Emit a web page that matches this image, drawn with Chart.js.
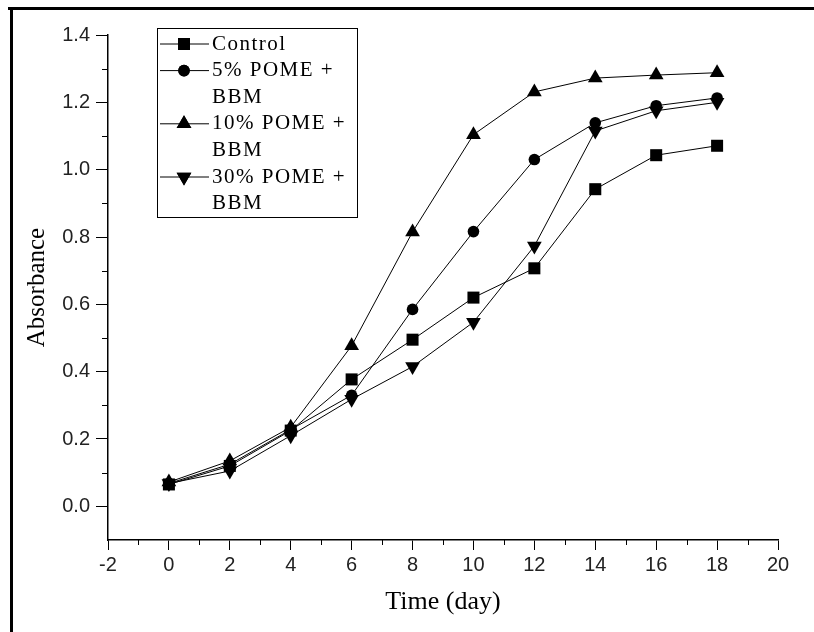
<!DOCTYPE html>
<html>
<head>
<meta charset="utf-8">
<script src="https://cdn.jsdelivr.net/npm/chart.js@4.4.1/dist/chart.umd.min.js"></script>
<style>
  html, body { margin: 0; padding: 0; background: #fff; }
</style>
</head>
<body>
<canvas id="grafico-absorbancia" width="814" height="632"></canvas>
<script>
// dias de cultivo
var dias = [0, 2, 4, 6, 8, 10, 12, 14, 16, 18];

// absorbancia de cada meio
var controle = [0.065, 0.12, 0.225, 0.377, 0.495, 0.62, 0.707, 0.942, 1.043, 1.071];
var pome5 = [0.068, 0.125, 0.228, 0.33, 0.585, 0.816, 1.03, 1.139, 1.19, 1.213];
var pome10 = [0.072, 0.135, 0.235, 0.477, 0.815, 1.104, 1.231, 1.272, 1.281, 1.288];
var pome30 = [0.068, 0.105, 0.21, 0.318, 0.415, 0.547, 0.773, 1.115, 1.175, 1.2];

var nomes = ["Control", "5% POME + BBM", "10% POME + BBM", "30% POME + BBM"];
var linhasLegenda = [["Control"], ["5% POME +", "BBM"], ["10% POME +", "BBM"], ["30% POME +", "BBM"]];

// marcas dos eixos
var ticksX = [-2, 0, 2, 4, 6, 8, 10, 12, 14, 16, 18, 20];
var menoresX = [-1, 1, 3, 5, 7, 9, 11, 13, 15, 17, 19];
var ticksY = [0, 0.2, 0.4, 0.6, 0.8, 1.0, 1.2, 1.4];
var menoresY = [0.1, 0.3, 0.5, 0.7, 0.9, 1.1, 1.3];

function pontos(valores) {
  return dias.map(function (d, i) {
    return { x: d, y: valores[i] };
  });
}

function serie(nome, valores, estilo, raio, rotacao) {
  return {
    label: nome,
    data: pontos(valores),
    borderColor: "#000",
    backgroundColor: "#000",
    borderWidth: 1,
    pointStyle: estilo,
    pointRadius: raio,
    pointRotation: rotacao,
    pointBorderWidth: 0,
    pointBackgroundColor: "#000",
    tension: 0,
  };
}

// moldura, marcas menores e legenda
var extras = {
  id: "extras",
  beforeDraw: function (chart) {
    var ctx = chart.ctx;
    ctx.save();
    ctx.fillStyle = "#fff";
    ctx.fillRect(0, 0, chart.width, chart.height);
    ctx.restore();
  },
  afterDraw: function (chart) {
    var ctx = chart.ctx;
    var sx = chart.scales.x;
    var sy = chart.scales.y;
    ctx.save();

    // marcas menores
    ctx.strokeStyle = "#000";
    ctx.lineWidth = 1;
    ctx.beginPath();
    menoresX.forEach(function (v) {
      var px = Math.round(sx.getPixelForValue(v)) + 0.5;
      ctx.moveTo(px, sx.top);
      ctx.lineTo(px, sx.top + 5);
    });
    menoresY.forEach(function (v) {
      var py = Math.round(sy.getPixelForValue(v)) + 0.5;
      ctx.moveTo(sy.right, py);
      ctx.lineTo(sy.right - 6, py);
    });
    ctx.stroke();

    // moldura
    ctx.fillStyle = "#000";
    ctx.fillRect(8, 7, chart.width - 8, 3);
    ctx.fillRect(10, 7, 3, chart.height - 7);

    // legenda
    var bx = 157, by = 28, bw = 200, bh = 189;
    ctx.lineWidth = 1;
    ctx.strokeRect(bx + 0.5, by + 0.5, bw, bh);
    ctx.font = "21px 'Liberation Serif'";
    ctx.textBaseline = "middle";
    ctx.textAlign = "left";
    ctx.letterSpacing = "1.5px";
    var y = 44;
    chart.data.datasets.forEach(function (ds, i) {
      ctx.beginPath();
      ctx.moveTo(bx + 3, y);
      ctx.lineTo(bx + 52, y);
      ctx.stroke();
      Chart.helpers.drawPoint(ctx, {
        pointStyle: ds.pointStyle,
        rotation: ds.pointRotation,
        radius: ds.pointRadius,
        borderWidth: 0,
      }, bx + 27, y);
      ctx.fill();
      linhasLegenda[i].forEach(function (t) {
        ctx.fillText(t, bx + 55, y);
        y += 26.6;
      });
    });
    ctx.restore();
  },
};

var graf = document.getElementById("grafico-absorbancia").getContext("2d");
var grafico = new Chart(graf, {
  type: "line",
  data: {
    datasets: [
      serie(nomes[0], controle, "rect", 8.5, 0),
      serie(nomes[1], pome5, "circle", 5.8, 0),
      serie(nomes[2], pome10, "triangle", 8.5, 0),
      serie(nomes[3], pome30, "triangle", 8.5, 180),
    ],
  },
  options: {
    responsive: false,
    animation: false,
    devicePixelRatio: 1,
    layout: {
      padding: { left: 20, top: 35, right: 36, bottom: 10 },
    },
    plugins: {
      legend: { display: false },
      tooltip: { enabled: false },
    },
    scales: {
      x: {
        type: "linear",
        min: -2,
        max: 20,
        afterBuildTicks: function (axis) {
          axis.ticks = ticksX.map(function (v) { return { value: v }; });
        },
        afterFit: function (axis) {
          axis.height = 82;
        },
        ticks: {
          color: "#222",
          padding: 3,
          font: { family: "'Liberation Sans'", size: 20 },
          maxRotation: 0,
        },
        grid: {
          drawOnChartArea: false,
          drawTicks: true,
          tickLength: 10,
          color: "#000",
          lineWidth: 1,
        },
        border: { display: true, color: "#000", width: 1.5 },
        title: {
          display: true,
          text: "Time (day)",
          color: "#000",
          font: { family: "'Liberation Serif'", size: 26 },
          padding: { top: 10 },
        },
      },
      y: {
        type: "linear",
        min: -0.1,
        max: 1.4,
        afterBuildTicks: function (axis) {
          axis.ticks = ticksY.map(function (v) { return { value: v }; });
        },
        afterFit: function (axis) {
          axis.width = 88;
        },
        ticks: {
          color: "#222",
          padding: 6,
          font: { family: "'Liberation Sans'", size: 20 },
          callback: function (v) { return v.toFixed(1); },
        },
        grid: {
          drawOnChartArea: false,
          drawTicks: true,
          tickLength: 12,
          color: "#000",
          lineWidth: 1,
        },
        border: { display: true, color: "#000", width: 1.5 },
        title: {
          display: true,
          text: "Absorbance",
          color: "#000",
          font: { family: "'Liberation Serif'", size: 25 },
          padding: { top: 2, bottom: 0 },
        },
      },
    },
  },
  plugins: [extras],
});
</script>
</body>
</html>
